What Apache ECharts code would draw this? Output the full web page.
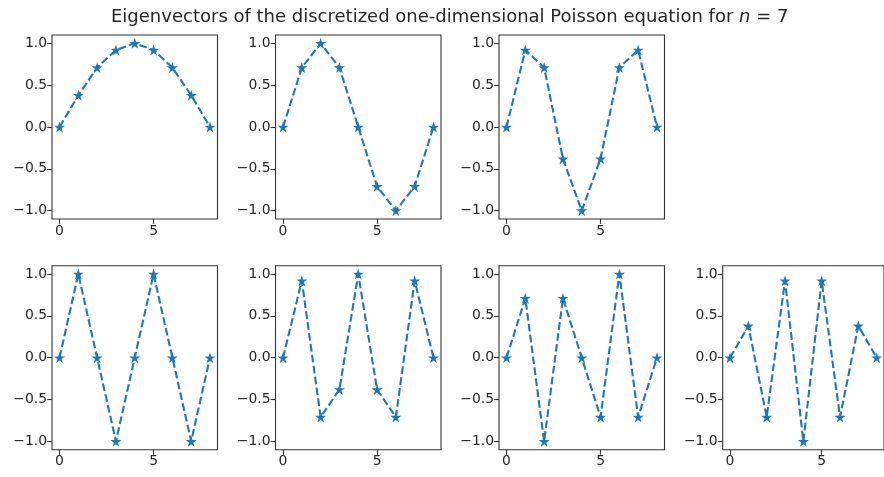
<!DOCTYPE html>
<html>
<head>
<meta charset="utf-8">
<script src="https://cdn.jsdelivr.net/npm/echarts@6/dist/echarts.min.js"></script>
<style>
html,body{margin:0;padding:0;background:#fff;}
#chart{width:884px;height:477px;}
</style>
</head>
<body>
<div id="chart"></div>
<script>
// Data
const xs = [0, 1, 2, 3, 4, 5, 6, 7, 8];
const v1 = [0, 0.38, 0.71, 0.92, 1.0, 0.92, 0.71, 0.38, 0];
const v2 = [0, 0.71, 1.0, 0.71, 0, -0.71, -1.0, -0.71, 0];
const v3 = [0, 0.92, 0.71, -0.38, -1.0, -0.38, 0.71, 0.92, 0];
const v4 = [0, 1.0, 0, -1.0, 0, 1.0, 0, -1.0, 0];
const v5 = [0, 0.92, -0.71, -0.38, 1.0, -0.38, -0.71, 0.92, 0];
const v6 = [0, 0.71, -1.0, 0.71, 0, -0.71, 1.0, -0.71, 0];
const v7 = [0, 0.38, -0.71, 0.92, -1.0, 0.92, -0.71, 0.38, 0];
const yTicks = [-1.0, -0.5, 0.0, 0.5, 1.0];
const xTicks = [0, 5];
const titleMain = 'Eigenvectors of the discretized one-dimensional Poisson equation for ';
const titleVar = 'n';
const titleTail = ' = 7';

const seriesList = [v1, v2, v3, v4, v5, v6, v7];

// layout (style, not data)
const colLeft = [52, 275.5, 499, 722.7];
const rowTop = [35, 265.7];
const W = 165.5, H = 184;
const slots = [[0,0],[0,1],[0,2],[1,0],[1,1],[1,2],[1,3]];

// star path
function starPath() {
  const pts = [];
  const ro = 1, ri = 0.381966;
  for (let i = 0; i < 10; i++) {
    const r = i % 2 === 0 ? ro : ri;
    const a = -Math.PI / 2 + i * Math.PI / 5;
    pts.push([(r * Math.cos(a)).toFixed(4), (r * Math.sin(a)).toFixed(4)]);
  }
  return 'path://M' + pts.map(p => p[0] + ' ' + p[1]).join(' L') + ' Z';
}
const STAR = starPath();
const BLUE = '#1f77b4';
const FONT = 'DejaVu Sans';
const INK = '#262626';
const fmt = v => {
  const s = Math.abs(v).toFixed(1);
  return (v < 0 ? '\u2212' : '') + s;
};

const grids = [], xAxes = [], yAxes = [], series = [];
slots.forEach((s, i) => {
  grids.push({
    left: colLeft[s[1]], top: rowTop[s[0]], width: W, height: H,
    show: true, borderColor: '#333', borderWidth: 1.1, backgroundColor: '#fff'
  });
  xAxes.push({
    type: 'value', gridIndex: i, min: -0.4, max: 8.4, position: 'bottom',
    splitLine: { show: false },
    axisLine: { show: false, onZero: false },
    axisTick: { show: true, length: 4.9, customValues: xTicks, lineStyle: { color: '#333', width: 1.1 } },
    axisLabel: { customValues: xTicks, color: INK, fontFamily: FONT, fontSize: 13.9, margin: 5, formatter: v => String(v) }
  });
  yAxes.push({
    type: 'value', gridIndex: i, min: -1.1, max: 1.1, position: 'left',
    splitLine: { show: false },
    axisLine: { show: false, onZero: false },
    axisTick: { show: true, length: 4.9, customValues: yTicks, lineStyle: { color: '#333', width: 1.1 } },
    axisLabel: { customValues: yTicks, color: INK, fontFamily: FONT, fontSize: 13.9, margin: 5, formatter: fmt }
  });
  series.push({
    type: 'line', xAxisIndex: i, yAxisIndex: i,
    data: xs.map((x, j) => [x, seriesList[i][j]]),
    symbol: STAR, symbolSize: 11, showAllSymbol: true,
    itemStyle: { color: BLUE },
    lineStyle: { color: BLUE, width: 2.1, type: [7.7, 3.3] },
    animation: false, silent: true
  });
});

const chart = echarts.init(document.getElementById('chart'), null, { renderer: 'canvas' });
chart.setOption({
  animation: false,
  backgroundColor: '#fff',
  title: {
    left: 106, top: 3,
    text: '{a|' + titleMain + '}{i|' + titleVar + '}{a|' + titleTail + '}',
    textStyle: {
      fontWeight: 'normal',
      rich: {
        a: { fontFamily: FONT, fontSize: 18, fontWeight: 'normal', color: INK },
        i: { fontFamily: FONT, fontSize: 18, fontWeight: 'normal', fontStyle: 'italic', color: INK }
      }
    }
  },
  grid: grids, xAxis: xAxes, yAxis: yAxes, series: series
});
</script>
</body>
</html>
